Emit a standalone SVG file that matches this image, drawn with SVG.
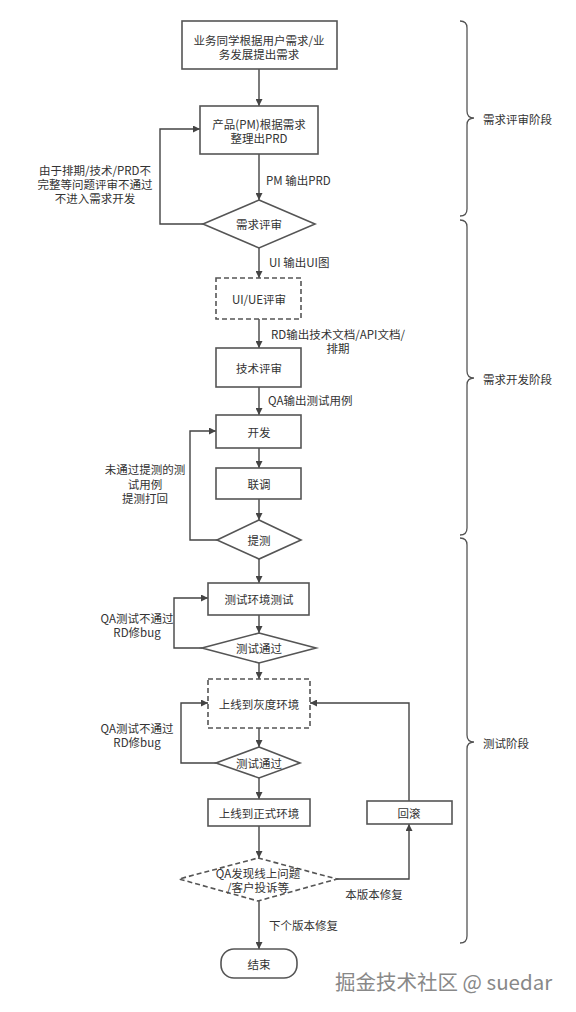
<svg xmlns="http://www.w3.org/2000/svg" width="576" height="1012" viewBox="0 0 576 1012">
<style>
text{font-family:"Noto Sans CJK SC","Noto Sans",sans-serif;font-size:11.5px;fill:#333;dominant-baseline:central}
.c{text-anchor:middle}
.box{fill:#fff;stroke:#555;stroke-width:1.6}
.dash{stroke-dasharray:5 3}
.ln{fill:none;stroke:#444;stroke-width:1.4}
.br{fill:none;stroke:#555;stroke-width:1.3}
</style>
<defs>
<marker id="ah" viewBox="0 0 10 10" refX="10" refY="5" markerWidth="7" markerHeight="7" orient="auto" markerUnits="userSpaceOnUse">
<path d="M0,0 L10,5 L0,10 z" fill="#444"/>
</marker>
</defs>
<rect width="576" height="1012" fill="#fff"/>

<g id="connectors">
<path class="ln" d="M259,69 V106" marker-end="url(#ah)"/>
<path class="ln" d="M259,154 V200" marker-end="url(#ah)"/>
<path class="ln" d="M203,224 H160 V129 H200" marker-end="url(#ah)"/>
<path class="ln" d="M259,248 V278" marker-end="url(#ah)"/>
<path class="ln" d="M259,319 V348" marker-end="url(#ah)"/>
<path class="ln" d="M259,387 V415" marker-end="url(#ah)"/>
<path class="ln" d="M259,448 V468" marker-end="url(#ah)"/>
<path class="ln" d="M259,499 V520" marker-end="url(#ah)"/>
<path class="ln" d="M217,540 H190 V431 H216" marker-end="url(#ah)"/>
<path class="ln" d="M259,559 V583" marker-end="url(#ah)"/>
<path class="ln" d="M259,615 V633" marker-end="url(#ah)"/>
<path class="ln" d="M202,648 H174 V598 H208" marker-end="url(#ah)"/>
<path class="ln" d="M259,663 V679" marker-end="url(#ah)"/>
<path class="ln" d="M259,728 V747" marker-end="url(#ah)"/>
<path class="ln" d="M216,763 H181 V703 H208" marker-end="url(#ah)"/>
<path class="ln" d="M259,778 V799" marker-end="url(#ah)"/>
<path class="ln" d="M259,826 V858" marker-end="url(#ah)"/>
<path class="ln" d="M337,879 H409 V824" marker-end="url(#ah)"/>
<path class="ln" d="M409,801 V703 H310" marker-end="url(#ah)"/>
<path class="ln" d="M259,901 V949" marker-end="url(#ah)"/>
<text x="266" y="180">PM 输出PRD</text>
<text class="c" x="95" y="170">由于排期/技术/PRD不</text>
<text class="c" x="95" y="184">完整等问题评审不通过</text>
<text class="c" x="95" y="198">不进入需求开发</text>
<text x="269" y="262">UI 输出UI图</text>
<text class="c" x="338" y="334">RD输出技术文档/API文档/</text>
<text class="c" x="338" y="348">排期</text>
<text x="268" y="400">QA输出测试用例</text>
<text class="c" x="145" y="469">未通过提测的测</text>
<text class="c" x="145" y="484">试用例</text>
<text class="c" x="145" y="498">提测打回</text>
<text class="c" x="137" y="618">QA测试不通过</text>
<text class="c" x="137" y="632">RD修bug</text>
<text class="c" x="137" y="728">QA测试不通过</text>
<text class="c" x="137" y="742">RD修bug</text>
<text class="c" x="374" y="894">本版本修复</text>
<text x="269" y="925">下个版本修复</text>
</g>

<g id="n1"><rect class="box" x="182" y="21" width="155" height="48"/><text class="c" x="259" y="40">业务同学根据用户需求/业</text><text class="c" x="259" y="54">务发展提出需求</text></g>
<g id="n2"><rect class="box" x="200" y="106" width="118" height="48"/><text class="c" x="259" y="124">产品(PM)根据需求</text><text class="c" x="259" y="138">整理出PRD</text></g>
<g id="n3"><polygon class="box" points="259,200 315,224 259,248 203,224"/><text class="c" x="259" y="224">需求评审</text></g>
<g id="n4"><rect class="box dash" x="216" y="278" width="85" height="41"/><text class="c" x="259" y="299">UI/UE评审</text></g>
<g id="n5"><rect class="box" x="216" y="348" width="85" height="39"/><text class="c" x="259" y="368">技术评审</text></g>
<g id="n6"><rect class="box" x="216" y="415" width="85" height="33"/><text class="c" x="259" y="432">开发</text></g>
<g id="n7"><rect class="box" x="216" y="468" width="85" height="31"/><text class="c" x="259" y="484">联调</text></g>
<g id="n8"><polygon class="box" points="259,520 301,540 259,559 217,540"/><text class="c" x="259" y="540">提测</text></g>
<g id="n9"><rect class="box" x="208" y="583" width="101" height="32"/><text class="c" x="259" y="599">测试环境测试</text></g>
<g id="n10"><polygon class="box" points="259,633 316,648 259,663 202,648"/><text class="c" x="259" y="648">测试通过</text></g>
<g id="n11"><rect class="box dash" x="208" y="679" width="102" height="49"/><text class="c" x="259" y="704">上线到灰度环境</text></g>
<g id="n12"><polygon class="box" points="259,747 300,763 259,778 216,763"/><text class="c" x="259" y="763">测试通过</text></g>
<g id="n13"><rect class="box" x="208" y="799" width="102" height="27"/><text class="c" x="259" y="813">上线到正式环境</text></g>
<g id="n14"><rect class="box" x="367" y="801" width="85" height="23"/><text class="c" x="409" y="813">回滚</text></g>
<g id="n15"><polygon class="box dash" points="258,858 337,879 258,901 179,879"/><text class="c" x="258" y="873">QA发现线上问题</text><text class="c" x="258" y="887">/客户投诉等</text></g>
<g id="n16"><rect class="box" x="221" y="949" width="76" height="29" rx="13"/><text class="c" x="259" y="964">结束</text></g>

<g id="phases">
<path class="br" d="M460,21 Q467,21 467,28 V111 Q467,118 474,118 Q467,118 467,125 V209 Q467,216 460,216"/>
<text x="483" y="119">需求评审阶段</text>
<path class="br" d="M460,220 Q467,220 467,227 V371 Q467,378 474,378 Q467,378 467,385 V528 Q467,535 460,535"/>
<text x="483" y="379">需求开发阶段</text>
<path class="br" d="M460,538 Q467,538 467,545 V735 Q467,742 474,742 Q467,742 467,749 V936 Q467,943 460,943"/>
<text x="483" y="743">测试阶段</text>
</g>
<text x="335" y="981" style="font-size:20.5px;fill:#888">掘金技术社区 @ suedar</text>
</svg>
